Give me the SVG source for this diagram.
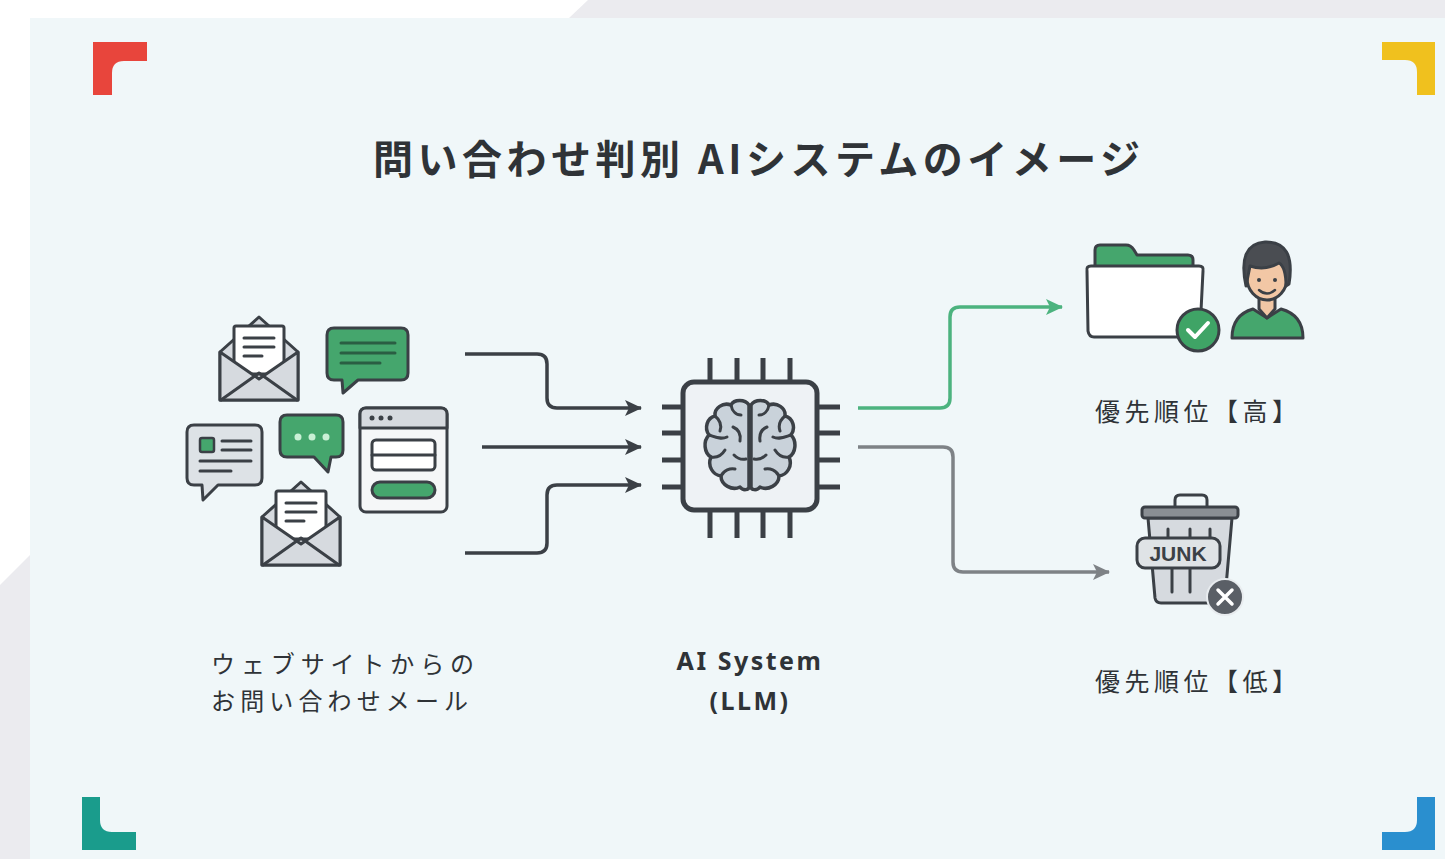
<svg xmlns="http://www.w3.org/2000/svg" width="1445" height="859" viewBox="0 0 1445 859">
  <defs>
    <style>
      .ink { stroke: #3b4046; stroke-width: 3; stroke-linejoin: round; stroke-linecap: round; }
      .pin { stroke: #3b4046; stroke-width: 5; }
      .flow { fill: none; stroke-width: 3.5; stroke-linejoin: round; }
      .jp { font-family: "Noto Sans CJK JP", "Noto Sans", sans-serif; fill: #2f3337; }
      .en { font-family: "Noto Sans", "Liberation Sans", sans-serif; fill: #2f3337; }
    </style>
    <marker id="headDark" markerUnits="userSpaceOnUse" markerWidth="20" markerHeight="20" refX="17" refY="10" orient="auto">
      <path d="M1,2 L18,10 L1,18 L5,10 Z" fill="#3b4046"/>
    </marker>
    <marker id="headGreen" markerUnits="userSpaceOnUse" markerWidth="20" markerHeight="20" refX="17" refY="10" orient="auto">
      <path d="M1,2 L18,10 L1,18 L5,10 Z" fill="#4cb37f"/>
    </marker>
    <marker id="headGrey" markerUnits="userSpaceOnUse" markerWidth="20" markerHeight="20" refX="17" refY="10" orient="auto">
      <path d="M1,2 L18,10 L1,18 L5,10 Z" fill="#7e8286"/>
    </marker>
    <g id="envelope">
      <path class="ink" d="M220,352 L259,317 L298,352 V400 H220 Z" fill="#d6dadf"/>
      <rect class="ink" x="234" y="326" width="50" height="48" rx="2" fill="#ffffff"/>
      <path class="ink" d="M244,338 H274 M244,347 H274 M244,356 H262" fill="none"/>
      <path class="ink" d="M220,352 L259,379 L298,352 V400 H220 Z" fill="#d6dadf"/>
      <path class="ink" d="M221,400 L259,373 L297,400" fill="none"/>
    </g>
  </defs>

  <!-- page backdrop -->
  <rect width="1445" height="859" fill="#ffffff"/>
  <polygon points="569,18 588,0 1445,0 1445,18" fill="#ebebef"/>
  <polygon points="0,585 30,555 30,859 0,859" fill="#ebebef"/>
  <rect x="30" y="18" width="1415" height="841" fill="#f0f7f9"/>

  <!-- corner brackets -->
  <g id="corners">
    <path d="M93,42 H147 V61 H124 Q112,61 112,73 V95 H93 Z" fill="#e8453c"/>
    <path d="M1435,42 V95 H1417 V72 Q1417,60 1405,60 H1382 V42 Z" fill="#f0c11e"/>
    <path d="M82,850 V797 H100 V820 Q100,832 112,832 H136 V850 Z" fill="#1a9c8c"/>
    <path d="M1435,850 H1382 V832 H1405 Q1417,832 1417,820 V797 H1435 Z" fill="#2a8fcf"/>
  </g>

  <!-- title -->
  <text id="title" class="jp" x="373" y="174" font-size="40" font-weight="700" fill="#1e2226" textLength="767" lengthAdjust="spacing">問い合わせ判別 AIシステムのイメージ</text>

  <!-- incoming messages -->
  <g id="inbox">
    <use href="#envelope"/>
    <!-- green chat bubble with lines -->
    <path class="ink" d="M334,328 H401 Q408,328 408,335 V373 Q408,380 401,380 H358 L343,393 L342,380 H334 Q327,380 327,373 V335 Q327,328 334,328 Z" fill="#45a66d"/>
    <path d="M341,343 H395 M341,353 H395 M341,363 H380" stroke="#2a5e43" stroke-width="3" stroke-linecap="round" fill="none"/>
    <!-- grey contact bubble -->
    <path class="ink" d="M194,425 H255 Q262,425 262,432 V478 Q262,485 255,485 H218 L203,500 L202,485 H194 Q187,485 187,478 V432 Q187,425 194,425 Z" fill="#dde2e6"/>
    <rect x="200" y="438" width="14" height="14" rx="2" fill="#45a66d" stroke="#3b4046" stroke-width="2.5"/>
    <path class="ink" d="M222,441 H251 M222,450 H251 M200,461 H251 M200,471 H231" fill="none"/>
    <!-- green typing bubble -->
    <path class="ink" d="M287,415 H336 Q343,415 343,422 V450 Q343,457 336,457 H331 L328,472 L314,457 H287 Q280,457 280,450 V422 Q280,415 287,415 Z" fill="#45a66d"/>
    <circle cx="298" cy="437" r="3.5" fill="#c9f0d5"/>
    <circle cx="312" cy="437" r="3.5" fill="#c9f0d5"/>
    <circle cx="326" cy="437" r="3.5" fill="#c9f0d5"/>
    <!-- web form window -->
    <rect class="ink" x="360" y="408" width="87" height="104" rx="6" fill="#f5f7f8"/>
    <path class="ink" d="M366,408 H441 Q447,408 447,414 V428 H360 V414 Q360,408 366,408 Z" fill="#d6dadf"/>
    <circle cx="372" cy="418" r="2.5" fill="#3b4046"/>
    <circle cx="381" cy="418" r="2.5" fill="#3b4046"/>
    <circle cx="390" cy="418" r="2.5" fill="#3b4046"/>
    <rect class="ink" x="372" y="440" width="63" height="30" rx="4" fill="#ffffff"/>
    <path class="ink" d="M372,455 H435" fill="none"/>
    <rect class="ink" x="372" y="482" width="63" height="16" rx="8" fill="#45a66d"/>
    <use href="#envelope" transform="translate(42,165)"/>
  </g>

  <!-- AI chip -->
  <g id="ai-chip">
    <path class="pin" d="M710,358 V382 M737,358 V382 M763,358 V382 M790,358 V382 M710,510 V538 M737,510 V538 M763,510 V538 M790,510 V538 M662,407 H683 M662,433 H683 M662,460 H683 M662,487 H683 M817,407 H840 M817,433 H840 M817,460 H840 M817,487 H840"/>
    <rect x="683" y="382" width="134" height="128" rx="11" fill="#eef2f5" stroke="#3b4046" stroke-width="5"/>
    <g id="brain">
      <g id="lobe">
        <path d="M749,405 C745,399 734,399 731,405 C723,402 714,408 715,416 C707,418 704,428 709,435 C703,441 704,453 711,457 C707,466 713,475 721,476 C721,485 732,491 740,487 C743,491 749,490 749,487 Z" fill="#c9d2da" stroke="#3b4046" stroke-width="3.5" stroke-linejoin="round"/>
        <path d="M731,405 C732,411 736,415 741,415 M715,416 C720,420 722,425 720,431 M709,435 C715,437 721,440 727,437 M711,457 C717,458 722,455 725,450 M721,476 C724,470 730,468 735,469 M733,427 C738,429 741,434 740,441 M734,455 C738,459 742,460 746,459" fill="none" stroke="#3b4046" stroke-width="3" stroke-linecap="round"/>
      </g>
      <use href="#lobe" transform="translate(1500,0) scale(-1,1)"/>
    </g>
  </g>

  <!-- high priority: folder and person -->
  <g id="priority-high">
    <path class="ink" d="M1095,272 V250 Q1095,245 1100,245 H1126 Q1131,245 1134,250 L1137,255 H1188 Q1193,255 1193,260 V272 Z" fill="#45a66d"/>
    <path class="ink" d="M1087,271 Q1086,266 1091,266 H1199 Q1204,266 1203,271 L1200,331 Q1200,337 1194,337 H1094 Q1089,337 1088,331 Z" fill="#ffffff"/>
    <circle cx="1198" cy="330" r="21" fill="#3fa466" stroke="#3b4046" stroke-width="3"/>
    <path d="M1188,330 L1195,337 L1208,323" fill="none" stroke="#ffffff" stroke-width="4" stroke-linecap="round" stroke-linejoin="round"/>
    <path class="ink" d="M1232,338 Q1232,315 1253,309 L1267,318 L1281,309 Q1303,315 1303,338 Z" fill="#45a66d"/>
    <path class="ink" d="M1259,296 V309 L1267,318 L1275,309 V296 Z" fill="#f2c7a5"/>
    <ellipse class="ink" cx="1267" cy="278" rx="20" ry="22" fill="#f2c7a5"/>
    <path class="ink" d="M1246,286 Q1237,244 1265,242 Q1296,241 1289,284 L1286,286 Q1286,267 1279,263 Q1265,271 1250,266 Z" fill="#4a4d52"/>
    <circle cx="1259" cy="280" r="2" fill="#3b4046"/>
    <circle cx="1275" cy="280" r="2" fill="#3b4046"/>
    <path d="M1259,290 Q1267,297 1275,290" fill="none" stroke="#3b4046" stroke-width="2.5" stroke-linecap="round"/>
  </g>

  <!-- low priority: junk bin -->
  <g id="priority-low">
    <path class="ink" d="M1175,508 V500 Q1175,495 1180,495 H1202 Q1207,495 1207,500 V508" fill="none"/>
    <path class="ink" d="M1148,518 L1155,598 Q1156,603 1161,603 H1219 Q1224,603 1225,598 L1232,518 Z" fill="#d6dadf"/>
    <rect class="ink" x="1142" y="507" width="96" height="11" rx="3" fill="#8a8f94"/>
    <path class="ink" d="M1168,529 V538 M1190,529 V538 M1210,529 V538 M1172,569 V592 M1190,569 V592" fill="none"/>
    <rect class="ink" x="1137" y="538" width="83" height="30" rx="8" fill="#dfe3e6"/>
    <text x="1178" y="561" text-anchor="middle" font-family="Liberation Sans, Arial, sans-serif" font-size="21" font-weight="700" fill="#3b4046">JUNK</text>
    <circle cx="1225" cy="597" r="18" fill="#5a5f66" stroke="#e8ecef" stroke-width="2"/>
    <path d="M1218,590 L1232,604 M1232,590 L1218,604" stroke="#ffffff" stroke-width="3.5" stroke-linecap="round"/>
  </g>

  <!-- connectors -->
  <g id="connectors">
    <path class="flow" stroke="#3b4046" marker-end="url(#headDark)" d="M465,354 H537 Q547,354 547,364 V398 Q547,408 557,408 H641"/>
    <path class="flow" stroke="#3b4046" marker-end="url(#headDark)" d="M482,447 H641"/>
    <path class="flow" stroke="#3b4046" marker-end="url(#headDark)" d="M465,553 H537 Q547,553 547,543 V495 Q547,485 557,485 H641"/>
    <path class="flow" stroke="#4cb37f" marker-end="url(#headGreen)" d="M858,408 H940 Q950,408 950,398 V317 Q950,307 960,307 H1062"/>
    <path class="flow" stroke="#7e8286" marker-end="url(#headGrey)" d="M858,447 H943 Q953,447 953,457 V562 Q953,572 963,572 H1109"/>
  </g>

  <!-- labels -->
  <g id="labels">
    <text class="jp" x="211" y="673" font-size="24" textLength="263" lengthAdjust="spacing">ウェブサイトからの</text>
    <text class="jp" x="211" y="710" font-size="24" textLength="257" lengthAdjust="spacing">お問い合わせメール</text>
    <text class="en" x="750" y="670" font-size="25" font-weight="700" text-anchor="middle" letter-spacing="2.5">AI System</text>
    <text class="en" x="750" y="710" font-size="25" font-weight="700" text-anchor="middle" letter-spacing="2.5">(LLM)</text>
    <text class="jp" x="1095" y="421" font-size="25" textLength="202" lengthAdjust="spacing">優先順位【高】</text>
    <text class="jp" x="1095" y="691" font-size="25" textLength="202" lengthAdjust="spacing">優先順位【低】</text>
  </g>
</svg>
